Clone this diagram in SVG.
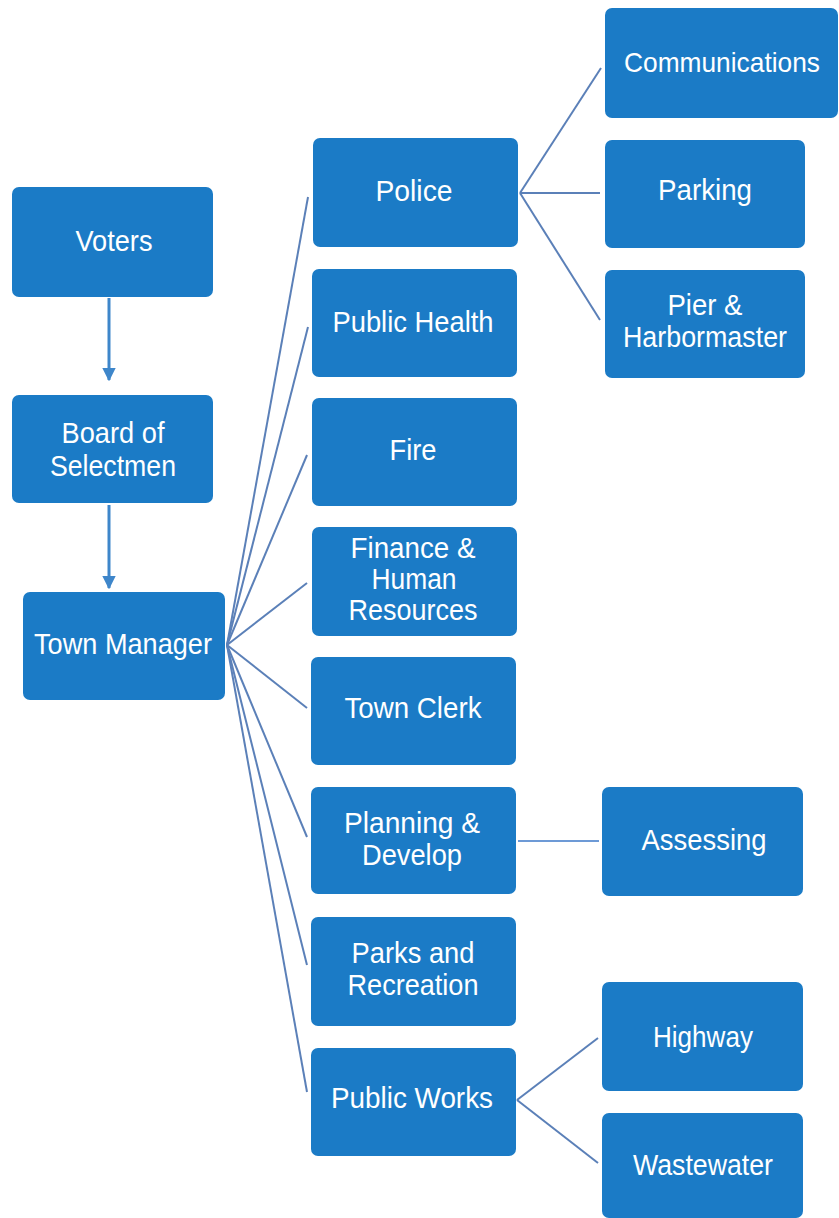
<svg xmlns="http://www.w3.org/2000/svg" width="839" height="1218" viewBox="0 0 839 1218">
<defs>
<style>
.box{fill:#1b7bc6;}
.t{font-family:"Liberation Sans",Arial,sans-serif;font-size:30px;fill:#ffffff;text-anchor:middle;}
.c{stroke:#5b80b8;stroke-width:2;fill:none;}
.a{stroke:#3e86ca;stroke-width:3;fill:none;}
</style>
<marker id="arr" viewBox="0 0 10 10" refX="9" refY="5" markerWidth="4.5" markerHeight="4.5" orient="auto" markerUnits="strokeWidth">
<path d="M0,0 L10,5 L0,10 z" fill="#3e86ca"/>
</marker>
</defs>
<rect width="839" height="1218" fill="#ffffff"/>
<g id="connectors">
<line class="a" x1="109" y1="298" x2="109" y2="380" marker-end="url(#arr)"/>
<line class="a" x1="109" y1="505" x2="109" y2="588" marker-end="url(#arr)"/>
<line class="c" x1="227" y1="645" x2="308" y2="197"/>
<line class="c" x1="227" y1="645" x2="308" y2="327"/>
<line class="c" x1="227" y1="645" x2="307" y2="455"/>
<line class="c" x1="227" y1="645" x2="307" y2="583"/>
<line class="c" x1="227" y1="645" x2="307" y2="708"/>
<line class="c" x1="227" y1="645" x2="307" y2="837"/>
<line class="c" x1="227" y1="645" x2="307" y2="965"/>
<line class="c" x1="227" y1="645" x2="307" y2="1092"/>
<line class="c" x1="520" y1="193" x2="601" y2="68"/>
<line class="c" x1="520" y1="193" x2="600" y2="193"/>
<line class="c" x1="520" y1="193" x2="600" y2="320"/>
<line class="c" x1="518" y1="841" x2="599" y2="841" style="stroke:#6d9ad6"/>
<line class="c" x1="517" y1="1100" x2="598" y2="1038"/>
<line class="c" x1="517" y1="1100" x2="598" y2="1163"/>
</g>
<g id="voters"><rect class="box" x="12" y="187" width="201" height="110" rx="7"/><text class="t" x="114" y="251" textLength="77" lengthAdjust="spacingAndGlyphs">Voters</text></g>
<g id="board"><rect class="box" x="12" y="395" width="201" height="108" rx="7"/><text class="t" x="113" y="443" textLength="103" lengthAdjust="spacingAndGlyphs">Board of</text><text class="t" x="113" y="476" textLength="126" lengthAdjust="spacingAndGlyphs">Selectmen</text></g>
<g id="town-manager"><rect class="box" x="23" y="592" width="202" height="108" rx="7"/><text class="t" x="123" y="654" textLength="178" lengthAdjust="spacingAndGlyphs">Town Manager</text></g>
<g id="police"><rect class="box" x="313" y="138" width="205" height="109" rx="7"/><text class="t" x="414" y="201" textLength="77" lengthAdjust="spacingAndGlyphs">Police</text></g>
<g id="public-health"><rect class="box" x="312" y="269" width="205" height="108" rx="7"/><text class="t" x="413" y="332" textLength="161" lengthAdjust="spacingAndGlyphs">Public Health</text></g>
<g id="fire"><rect class="box" x="312" y="398" width="205" height="108" rx="7"/><text class="t" x="413" y="460" textLength="47" lengthAdjust="spacingAndGlyphs">Fire</text></g>
<g id="finance"><rect class="box" x="312" y="527" width="205" height="109" rx="7"/><text class="t" x="413" y="558" textLength="125" lengthAdjust="spacingAndGlyphs">Finance &amp;</text><text class="t" x="414" y="589" textLength="85" lengthAdjust="spacingAndGlyphs">Human</text><text class="t" x="413" y="620" textLength="129" lengthAdjust="spacingAndGlyphs">Resources</text></g>
<g id="town-clerk"><rect class="box" x="311" y="657" width="205" height="108" rx="7"/><text class="t" x="413" y="718" textLength="137" lengthAdjust="spacingAndGlyphs">Town Clerk</text></g>
<g id="planning"><rect class="box" x="311" y="787" width="205" height="107" rx="7"/><text class="t" x="412" y="833" textLength="136" lengthAdjust="spacingAndGlyphs">Planning &amp;</text><text class="t" x="412" y="865" textLength="100" lengthAdjust="spacingAndGlyphs">Develop</text></g>
<g id="parks"><rect class="box" x="311" y="917" width="205" height="109" rx="7"/><text class="t" x="413" y="963" textLength="123" lengthAdjust="spacingAndGlyphs">Parks and</text><text class="t" x="413" y="995" textLength="131" lengthAdjust="spacingAndGlyphs">Recreation</text></g>
<g id="public-works"><rect class="box" x="311" y="1048" width="205" height="108" rx="7"/><text class="t" x="412" y="1108" textLength="162" lengthAdjust="spacingAndGlyphs">Public Works</text></g>
<g id="communications"><rect class="box" x="605" y="8" width="233" height="110" rx="7"/><text class="t" x="722" y="72" style="font-size:28px" textLength="196" lengthAdjust="spacingAndGlyphs">Communications</text></g>
<g id="parking"><rect class="box" x="605" y="140" width="200" height="108" rx="7"/><text class="t" x="705" y="200" textLength="94" lengthAdjust="spacingAndGlyphs">Parking</text></g>
<g id="pier"><rect class="box" x="605" y="270" width="200" height="108" rx="7"/><text class="t" x="705" y="315" textLength="75" lengthAdjust="spacingAndGlyphs">Pier &amp;</text><text class="t" x="705" y="347" textLength="164" lengthAdjust="spacingAndGlyphs">Harbormaster</text></g>
<g id="assessing"><rect class="box" x="602" y="787" width="201" height="109" rx="7"/><text class="t" x="704" y="850" textLength="125" lengthAdjust="spacingAndGlyphs">Assessing</text></g>
<g id="highway"><rect class="box" x="602" y="982" width="201" height="109" rx="7"/><text class="t" x="703" y="1047" textLength="100" lengthAdjust="spacingAndGlyphs">Highway</text></g>
<g id="wastewater"><rect class="box" x="602" y="1113" width="201" height="105" rx="7"/><text class="t" x="703" y="1175" textLength="140" lengthAdjust="spacingAndGlyphs">Wastewater</text></g>
</svg>
